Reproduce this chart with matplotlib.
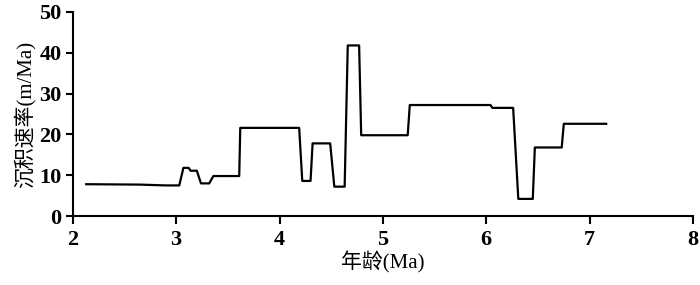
import matplotlib
matplotlib.use('Agg')
import matplotlib.pyplot as plt

# age (Ma) and sedimentation rate (m/Ma)
age = [2.13, 2.65, 2.90, 3.03, 3.07, 3.12, 3.14, 3.20, 3.24, 3.32, 3.36, 3.61,
       3.62, 4.19, 4.22, 4.30, 4.32, 4.49, 4.53, 4.63, 4.66, 4.77, 4.79, 5.24,
       5.26, 6.04, 6.06, 6.26, 6.31, 6.45, 6.47, 6.73, 6.75, 7.16]
rate = [7.8, 7.7, 7.5, 7.5, 11.8, 11.8, 11.1, 11.1, 8.0, 8.0, 9.8, 9.8,
        21.6, 21.6, 8.6, 8.6, 17.8, 17.8, 7.2, 7.2, 41.8, 41.8, 19.8, 19.8,
        27.2, 27.2, 26.5, 26.5, 4.2, 4.2, 16.8, 16.8, 22.6, 22.6]

xticks = [2, 3, 4, 5, 6, 7, 8]
yticks = [0, 10, 20, 30, 40, 50]

num_font = ['Liberation Serif', 'DejaVu Serif']
lab_font = ['Liberation Serif', 'Noto Sans CJK SC', 'DejaVu Sans']

fig = plt.figure(figsize=(7, 2.85), dpi=100)
ax = fig.add_axes([0.104, 0.242, 0.886, 0.716])

ax.plot(age, rate, color='black', lw=1.6)
ax.plot([age[0], age[-1]], [0, 0], color='black', lw=1.2)

ax.set_xlim(2, 8)
ax.set_ylim(0, 50)
ax.set_xticks(xticks)
ax.set_yticks(yticks)
for s in ['top', 'right']:
    ax.spines[s].set_visible(False)
for s in ['left', 'bottom']:
    ax.spines[s].set_linewidth(1.5)
ax.tick_params(axis='y', direction='out', length=5, width=1.5, pad=3)
ax.tick_params(axis='x', direction='out', length=6, width=1.5, pad=4)
for lab in ax.get_xticklabels() + ax.get_yticklabels():
    lab.set_family(num_font)
    lab.set_fontsize(16)
    lab.set_fontweight('bold')

ax.set_xlabel('年龄(Ma)', family=lab_font, fontsize=15, labelpad=1)
ax.set_ylabel('沉积速率(m/Ma)', family=lab_font, fontsize=15, labelpad=3)

plt.savefig('out.png', dpi=100)
